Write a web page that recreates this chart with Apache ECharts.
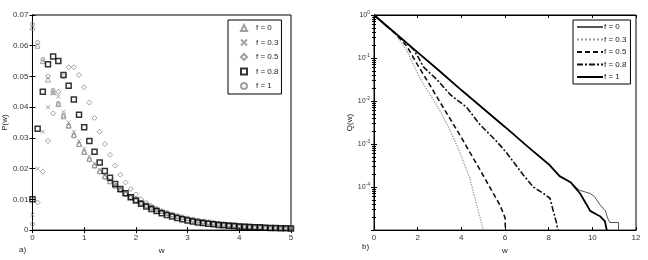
<!DOCTYPE html>
<html>
<head>
<meta charset="utf-8">
<script src="https://cdn.jsdelivr.net/npm/echarts@6/dist/echarts.min.js"></script>
<style>
  html, body { margin: 0; padding: 0; background: #fff; }
  #chart { width: 648px; height: 260px; }
</style>
</head>
<body>
<div id="chart"></div>
<script>
// a) P(w), histogram points
const wP = [0, 0.1, 0.2, 0.3, 0.4, 0.5, 0.6, 0.7, 0.8, 0.9,
  1.0, 1.1, 1.2, 1.3, 1.4, 1.5, 1.6, 1.7, 1.8, 1.9,
  2.0, 2.1, 2.2, 2.3, 2.4, 2.5, 2.6, 2.7, 2.8, 2.9,
  3.0, 3.1, 3.2, 3.3, 3.4, 3.5, 3.6, 3.7, 3.8, 3.9,
  4.0, 4.1, 4.2, 4.3, 4.4, 4.5, 4.6, 4.7, 4.8, 4.9, 5.0];
const pF0 = [0.066, 0.060, 0.055, 0.049, 0.045, 0.041, 0.037, 0.034, 0.031, 0.028,
  0.0255, 0.0232, 0.0211, 0.0192, 0.0175, 0.0159, 0.0145, 0.0132, 0.0120, 0.0109,
  0.0099, 0.0090, 0.0082, 0.0075, 0.0068, 0.0062, 0.0056, 0.0051, 0.0047, 0.0043,
  0.0039, 0.0035, 0.0032, 0.0029, 0.0027, 0.0024, 0.0022, 0.0020, 0.0018, 0.0017,
  0.0015, 0.0014, 0.0013, 0.0012, 0.0011, 0.0010, 0.0009, 0.0008, 0.0007, 0.0007, 0.0006];
const pF03 = [0.005, 0.020, 0.032, 0.040, 0.0445, 0.0435, 0.0385, 0.0350, 0.0320, 0.0290,
  0.0265, 0.0240, 0.0216, 0.0196, 0.0178, 0.0162, 0.0148, 0.0135, 0.0123, 0.0112,
  0.0102, 0.0092, 0.0084, 0.0076, 0.0069, 0.0063, 0.0057, 0.0052, 0.0048, 0.0044,
  0.0040, 0.0036, 0.0033, 0.0030, 0.0028, 0.0025, 0.0023, 0.0021, 0.0019, 0.0018,
  0.0016, 0.0015, 0.0014, 0.0013, 0.0012, 0.0011, 0.0010, 0.0009, 0.0008, 0.0008, 0.0007];
const pF05 = [0.002, 0.009, 0.019, 0.029, 0.038, 0.045, 0.050, 0.053, 0.0530, 0.0505,
  0.0465, 0.0415, 0.0365, 0.0320, 0.0280, 0.0245, 0.0210, 0.0180, 0.0155, 0.0134,
  0.0116, 0.0101, 0.0089, 0.0079, 0.0070, 0.0062, 0.0055, 0.0049, 0.0044, 0.0040,
  0.0036, 0.0032, 0.0029, 0.0026, 0.0024, 0.0022, 0.0020, 0.0018, 0.0016, 0.0015,
  0.0013, 0.0012, 0.0011, 0.0010, 0.0009, 0.0008, 0.0008, 0.0007, 0.0006, 0.0006, 0.0005];
const pF08 = [0.010, 0.033, 0.045, 0.054, 0.0565, 0.055, 0.0505, 0.047, 0.0425, 0.0375,
  0.0335, 0.0290, 0.0255, 0.0220, 0.0192, 0.0170, 0.0150, 0.0134, 0.0120, 0.0107,
  0.0096, 0.0086, 0.0077, 0.0069, 0.0062, 0.0055, 0.0049, 0.0044, 0.0039, 0.0035,
  0.0031, 0.0028, 0.0025, 0.0023, 0.0021, 0.0019, 0.0017, 0.0016, 0.0014, 0.0013,
  0.0012, 0.0011, 0.0010, 0.0009, 0.0009, 0.0008, 0.0007, 0.0007, 0.0006, 0.0006, 0.0005];
const pF1 = [0.067, 0.061, 0.0555, 0.050, 0.0455, 0.0412, 0.0372, 0.0338, 0.0306, 0.0278,
  0.0252, 0.0229, 0.0208, 0.0189, 0.0172, 0.0157, 0.0143, 0.0130, 0.0118, 0.0107,
  0.0097, 0.0088, 0.0080, 0.0073, 0.0066, 0.0060, 0.0055, 0.0050, 0.0045, 0.0041,
  0.0037, 0.0034, 0.0031, 0.0028, 0.0025, 0.0023, 0.0021, 0.0019, 0.0017, 0.0016,
  0.0014, 0.0013, 0.0012, 0.0011, 0.0010, 0.0009, 0.0008, 0.0008, 0.0007, 0.0006, 0.0006];

// b) Q(w), log scale
const wQ0 = [0, 1, 2, 3, 4, 5, 6, 7, 8, 8.5, 9.0, 9.4, 9.9, 10.1, 10.35, 10.6, 10.7, 10.8, 11.2, 11.2];
const qF0 = [1, 0.37, 0.135, 0.05, 0.018, 6.7e-3, 2.5e-3, 9.1e-4, 3.4e-4, 1.8e-4,
  1.3e-4, 8.5e-5, 7.1e-5, 6.0e-5, 3.9e-5, 2.8e-5, 1.9e-5, 1.5e-5, 1.5e-5, 1.0e-5];
const wQ03 = [0, 0.5, 1, 1.5, 2.1, 2.57, 3.02, 3.48, 3.94, 4.4, 4.7, 4.93, 5.0];
const qF03 = [1, 0.60, 0.355, 0.148, 0.034, 0.0141, 6.0e-3, 2.1e-3, 6.2e-4, 1.55e-4, 3.9e-5, 1.4e-5, 1.0e-5];
const wQ05 = [0, 0.5, 1, 1.5, 1.95, 2.57, 3.02, 3.48, 3.94, 4.4, 4.86, 5.31, 5.77, 6.0, 6.02];
const qF05 = [1, 0.60, 0.36, 0.19, 0.076, 0.023, 9.5e-3, 3.9e-3, 1.6e-3, 6.3e-4, 2.5e-4, 9.8e-5, 3.8e-5, 1.95e-5, 1.0e-5];
const wQ08 = [0, 0.5, 1, 1.5, 1.8, 2.0, 2.26, 2.87, 3.5, 4.25, 4.86, 5.62, 6.08, 6.84, 7.3, 7.76, 8.06, 8.21, 8.37, 8.42];
const qF08 = [1, 0.60, 0.37, 0.22, 0.16, 0.11, 0.062, 0.032, 0.014, 7.1e-3, 2.8e-3, 1.15e-3, 6.2e-4,
  1.9e-4, 1.0e-4, 7.1e-5, 5.5e-5, 2.8e-5, 1.4e-5, 1.0e-5];
const wQ1 = [0, 1, 2, 3, 4, 5, 6, 7, 8, 8.5, 9.0, 9.44, 9.74, 9.9, 10.2, 10.35, 10.58, 10.66];
const qF1 = [1, 0.37, 0.135, 0.05, 0.018, 6.7e-3, 2.5e-3, 9.1e-4, 3.4e-4, 1.8e-4,
  1.3e-4, 7.1e-5, 3.9e-5, 2.8e-5, 2.3e-5, 2.1e-5, 1.6e-5, 1.0e-5];

const fLabels = ['f = 0', 'f = 0.3', 'f = 0.5', 'f = 0.8', 'f = 1'];

const font = 'Liberation Sans';
const gray = '#8a8a8a';
const zip = (xs, ys) => xs.map((x, i) => [x, ys[i]]);

const tickIn = { show: true, inside: true, length: 3, lineStyle: { color: '#000' } };
const noLabel = { show: false };

function scatter(name, ys, symbol, size, color, bw, z) {
  return {
    name: name, type: 'scatter', xAxisIndex: 0, yAxisIndex: 0,
    data: zip(wP, ys), symbol: symbol, symbolSize: size, z: z,
    itemStyle: { color: 'transparent', borderColor: color, borderWidth: bw }
  };
}
// right-hand names get a trailing space so the two legends pick their own series
function qline(name, xs, ys, color, width, type) {
  return {
    name: name + ' ', type: 'line', xAxisIndex: 2, yAxisIndex: 2,
    data: zip(xs, ys), showSymbol: false, symbol: 'none',
    itemStyle: { color: color },
    lineStyle: { color: color, width: width, type: type }
  };
}

const chart = echarts.init(document.getElementById('chart'));
const option = {
  backgroundColor: '#fff',
  animation: false,
  textStyle: { fontFamily: font },
  title: [
    { text: 'a)', left: 14, top: 241, textStyle: { fontSize: 8, fontWeight: 'normal', color: '#222' } },
    { text: 'b)', left: 357, top: 238, textStyle: { fontSize: 8, fontWeight: 'normal', color: '#222' } }
  ],
  grid: [
    { left: 28, top: 15, width: 263, height: 220, show: true, borderColor: '#000', borderWidth: 1, backgroundColor: '#fff' },
    { left: 374, top: 15, width: 262, height: 221, show: true, borderColor: '#000', borderWidth: 1, backgroundColor: '#fff' }
  ],
  legend: [
    {
      data: fLabels, left: 228, top: 20, orient: 'vertical',
      itemWidth: 6, itemHeight: 6, itemGap: 6.5,
      padding: [4, 3, 4, 12], borderColor: '#000', borderWidth: 1, backgroundColor: '#fff',
      textStyle: { fontSize: 8, color: '#222', padding: [0, 0, 0, 4] }
    },
    {
      data: fLabels.map(n => n + ' '), left: 573, top: 20, orient: 'vertical',
      itemWidth: 26, itemHeight: 8, itemGap: 4.5,
      padding: [3, 4, 3, 3], borderColor: '#000', borderWidth: 1, backgroundColor: '#fff',
      itemStyle: { opacity: 0 },
      formatter: n => n.trim(),
      textStyle: { fontSize: 8, color: '#222', padding: [0, 0, 0, -4] }
    }
  ],
  xAxis: [
    {
      gridIndex: 0, type: 'value', min: 0, max: 5, interval: 1,
      name: 'w', nameLocation: 'middle', nameGap: 12, nameTextStyle: { fontSize: 8, color: '#222' },
      axisLine: { lineStyle: { color: '#000' } }, axisTick: tickIn, splitLine: { show: false },
      axisLabel: { fontSize: 8, color: '#333', margin: 4 }
    },
    {
      gridIndex: 0, type: 'value', min: 0, max: 5, interval: 1, position: 'top',
      axisLine: { lineStyle: { color: '#000' } }, axisTick: tickIn, splitLine: { show: false }, axisLabel: noLabel
    },
    {
      gridIndex: 1, type: 'value', min: 0, max: 12, interval: 2,
      name: 'w', nameLocation: 'middle', nameGap: 12, nameTextStyle: { fontSize: 8, color: '#222' },
      axisLine: { lineStyle: { color: '#000' } }, axisTick: tickIn, splitLine: { show: false },
      axisLabel: { fontSize: 8, color: '#333', margin: 4 }
    },
    {
      gridIndex: 1, type: 'value', min: 0, max: 12, interval: 2, position: 'top',
      axisLine: { lineStyle: { color: '#000' } }, axisTick: tickIn, splitLine: { show: false }, axisLabel: noLabel
    }
  ],
  yAxis: [
    {
      gridIndex: 0, type: 'value', min: 0, max: 0.07, interval: 0.01,
      name: 'P(w)', nameLocation: 'middle', nameGap: 19, nameTextStyle: { fontSize: 8, color: '#222' },
      axisLine: { lineStyle: { color: '#000' } }, axisTick: tickIn, splitLine: { show: false },
      axisLabel: { fontSize: 8, color: '#333', margin: 4, formatter: v => v === 0 ? '0' : v.toFixed(2) }
    },
    {
      gridIndex: 0, type: 'value', min: 0, max: 0.07, interval: 0.01, position: 'right',
      axisLine: { lineStyle: { color: '#000' } }, axisTick: tickIn, splitLine: { show: false }, axisLabel: noLabel
    },
    {
      gridIndex: 1, type: 'log', logBase: 10, min: 1e-5, max: 1,
      name: 'Q(w)', nameLocation: 'middle', nameGap: 20, nameTextStyle: { fontSize: 8, color: '#222' },
      axisLine: { lineStyle: { color: '#000' } }, axisTick: tickIn, splitLine: { show: false },
      minorTick: { show: true, splitNumber: 9, length: 2, lineStyle: { color: '#000' } },
      axisLabel: {
        fontSize: 7, color: '#333', margin: 4,
        formatter: v => {
          const e = Math.round(Math.log10(v));
          return e <= -5 ? '' : '{b|10}{s|' + e + '}';
        },
        rich: { b: { fontSize: 7, color: '#333' }, s: { fontSize: 5, color: '#333', padding: [0, 0, 5, 0] } }
      }
    },
    {
      gridIndex: 1, type: 'log', logBase: 10, min: 1e-5, max: 1, position: 'right',
      axisLine: { lineStyle: { color: '#000' } }, axisTick: tickIn, splitLine: { show: false },
      minorTick: { show: true, splitNumber: 9, length: 2, lineStyle: { color: '#000' } },
      axisLabel: noLabel
    }
  ],
  series: [
    scatter(fLabels[0], pF0, 'triangle', 5, gray, 1, 3),
    scatter(fLabels[1], pF03, 'path://M0,0L10,10M10,0L0,10', 4, gray, 1, 3),
    scatter(fLabels[2], pF05, 'diamond', 5, gray, 1, 3),
    scatter(fLabels[3], pF08, 'rect', 5, '#000', 1.5, 4),
    scatter(fLabels[4], pF1, 'circle', 4, gray, 1, 3),
    qline(fLabels[0], wQ0, qF0, '#555', 1, 'solid'),
    qline(fLabels[1], wQ03, qF03, '#999', 1.3, 'dotted'),
    qline(fLabels[2], wQ05, qF05, '#111', 1.6, [5, 3]),
    qline(fLabels[3], wQ08, qF08, '#111', 1.6, [6, 2, 2, 2]),
    qline(fLabels[4], wQ1, qF1, '#000', 1.8, 'solid')
  ]
};
chart.setOption(option);
</script>
</body>
</html>
